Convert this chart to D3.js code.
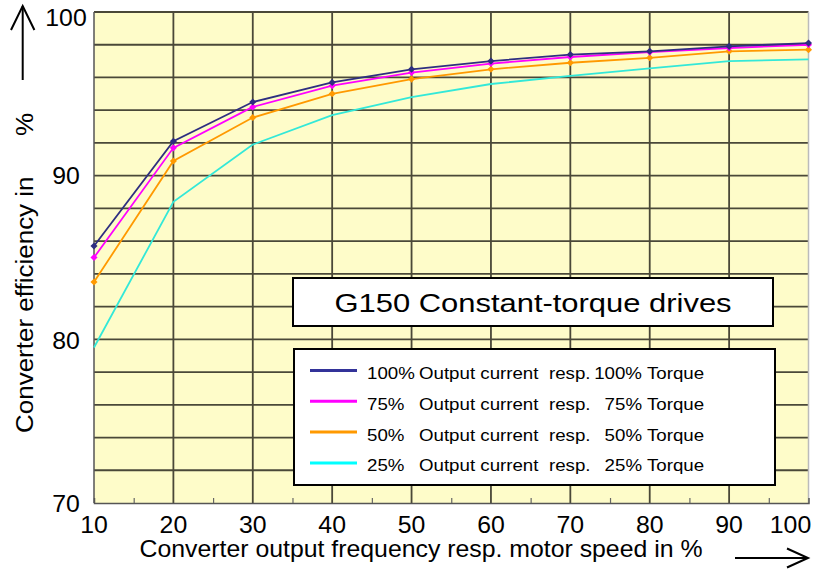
<!DOCTYPE html>
<html><head><meta charset="utf-8">
<script src="https://cdn.jsdelivr.net/npm/d3@7"></script>
<style>
html,body{margin:0;padding:0;background:#fff;}
svg{display:block;font-family:"Liberation Sans",Arial,sans-serif;}
text{white-space:pre;}
</style></head>
<body>
<svg id="chart" width="813" height="569"></svg>
<script>
// ---- data ----
const speed = [10, 20, 30, 40, 50, 60, 70, 80, 90, 100];
const eff100 = [85.7, 92.1, 94.5, 95.7, 96.5, 97.0, 97.4, 97.6, 97.9, 98.1];
const eff75  = [85.0, 91.7, 94.2, 95.5, 96.3, 96.85, 97.25, 97.55, 97.8, 98.0];
const eff50  = [83.5, 90.9, 93.55, 95.0, 95.9, 96.5, 96.9, 97.2, 97.6, 97.7];
const eff25  = [79.5, 88.4, 91.9, 93.7, 94.8, 95.6, 96.1, 96.55, 97.0, 97.1];
const seriesNames = ["100%", "75%", "50%", "25%"];
const xTicks = [10, 20, 30, 40, 50, 60, 70, 80, 90, 100];
const xMinorTicks = [15, 25, 35, 45, 55, 65, 75, 85, 95];
const yTicks = [70, 80, 90, 100];
const yGrid = [72, 74, 76, 78, 80, 82, 84, 86, 88, 90, 92, 94, 96, 98, 100];
const title = "G150 Constant-torque drives";
const xTitle = "Converter output frequency resp. motor speed in %";
const yTitle = "Converter efficiency in";
const yTitleUnit = "%";

const colors = ["#2e2e80", "#ff00ff", "#ff9900", "#33e8d8"];
const legendColors = ["#333399", "#ff00ff", "#ff9900", "#00ffff"];
const series = [eff100, eff75, eff50, eff25];

const svg = d3.select("#chart");
const L = 94, R = 808.5, T = 12, B = 503;
const x = d3.scaleLinear().domain([10, 100]).range([L, R]);
const y = d3.scaleLinear().domain([70, 100]).range([B, T]);

function stext(g, tx, ty, str, size, sx, anchor, rot) {
  return g.append("text")
    .attr("transform", `translate(${tx},${ty})${rot ? ` rotate(${rot})` : ""} scale(${sx},1)`)
    .attr("text-anchor", anchor || "start").attr("font-size", size).attr("fill", "#000")
    .text(str);
}

// background
svg.append("rect").attr("x", L).attr("y", T).attr("width", R - L).attr("height", B - T)
  .attr("fill", "#fefcc9");

// grid
const grid = svg.append("g");
grid.selectAll("line.h").data(yGrid).join("line").attr("class", "h")
  .attr("x1", L).attr("x2", R).attr("y1", d => y(d)).attr("y2", d => y(d))
  .attr("stroke", "#4a4838").attr("stroke-width", 1.8);
grid.selectAll("line.v").data(xTicks.slice(1, -1)).join("line").attr("class", "v")
  .attr("y1", T).attr("y2", B).attr("x1", d => x(d)).attr("x2", d => x(d))
  .attr("stroke", "#4a4838").attr("stroke-width", 1.8);
// borders
svg.append("line").attr("x1", L).attr("x2", L).attr("y1", T).attr("y2", B).attr("stroke", "#555").attr("stroke-width", 1.5);
svg.append("line").attr("x1", R).attr("x2", R).attr("y1", T).attr("y2", B).attr("stroke", "#bbb").attr("stroke-width", 1.5);

// x axis
const xAxis = d3.axisBottom(x).tickValues(xMinorTicks).tickSize(-5).tickFormat("");
const xa = svg.append("g").attr("transform", `translate(0,${B})`).call(xAxis);
xa.select(".domain").attr("stroke", "#555").attr("stroke-width", 1.5);
xa.selectAll(".tick line").attr("stroke", "#666").attr("stroke-width", 1.2);

const xl = svg.append("g");
xTicks.forEach(d => stext(xl, d === 100 ? x(d) - 18 : x(d), 533, String(d), 23, 1.08, "middle"));

// y labels
const yOff = {100: 14, 90: 8, 80: 10, 70: 9};
const yl = svg.append("g");
yTicks.forEach(d => stext(yl, 66, y(d) + yOff[d], String(d), 23, 1.08, "middle"));

// lines
const line = d3.line().x((d, i) => x(speed[i])).y(d => y(d));
series.slice().reverse().forEach((s, ri) => {
  const i = series.length - 1 - ri;
  svg.append("path").datum(s).attr("d", line).attr("fill", "none")
    .attr("stroke", colors[i]).attr("stroke-width", 1.8);
  if (i < 3) {
    svg.append("g").selectAll("rect").data(s).join("rect")
      .attr("x", (d, j) => x(speed[j]) - 2.5).attr("y", d => y(d) - 2.5)
      .attr("width", 5).attr("height", 5).attr("fill", colors[i])
      .attr("transform", (d, j) => `rotate(45,${x(speed[j])},${y(d)})`);
  }
});

// title box
svg.append("rect").attr("x", 293).attr("y", 278).attr("width", 480).attr("height", 48)
  .attr("fill", "#fff").attr("stroke", "#000").attr("stroke-width", 2);
stext(svg, 533, 312, title, 26, 1.19, "middle");

// legend box
svg.append("rect").attr("x", 294).attr("y", 349).attr("width", 481).attr("height", 136)
  .attr("fill", "#fff").attr("stroke", "#000").attr("stroke-width", 2);
const lg = svg.append("g");
seriesNames.forEach((n, i) => {
  const cy = 370.5 + i * 30.8;
  lg.append("line").attr("x1", 310).attr("x2", 357).attr("y1", cy).attr("y2", cy)
    .attr("stroke", legendColors[i]).attr("stroke-width", 3);
  const ty = cy + 8.5;
  stext(lg, 367, ty, n, 17, 1.1);
  stext(lg, 419, ty, "Output current", 17, 1.1);
  stext(lg, 549, ty, "resp.", 17, 1.1);
  stext(lg, 642, ty, n, 17, 1.1, "end");
  stext(lg, 647, ty, "Torque", 17, 1.1);
});

// axis titles
stext(svg, 421, 557, xTitle, 23, 1.08, "middle");
stext(svg, 33, 433, yTitle, 23, 1.13, "start", -90);
stext(svg, 33, 113, yTitleUnit, 23, 1.13, "end", -90);

// arrows
const ar = svg.append("g").attr("stroke", "#000").attr("stroke-width", 2).attr("fill", "none");
ar.append("line").attr("x1", 22.7).attr("x2", 22.7).attr("y1", 6).attr("y2", 80);
ar.append("polyline").attr("points", "11,30 22.7,6 34.4,30");
ar.append("line").attr("x1", 735).attr("x2", 808).attr("y1", 558).attr("y2", 558);
ar.append("polyline").attr("points", "787,548.5 808,558 787,567.5");
</script>
</body></html>
